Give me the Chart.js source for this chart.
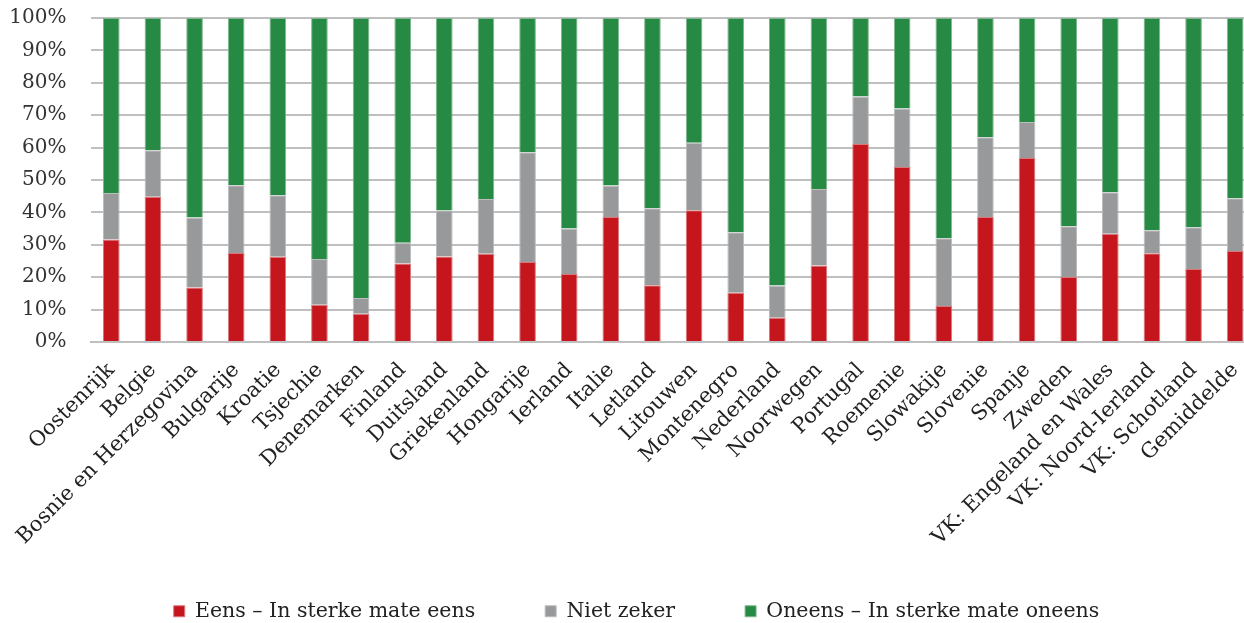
<!DOCTYPE html>
<html>
<head>
<meta charset="utf-8">
<script src="https://cdn.jsdelivr.net/npm/chart.js@4"></script>
<style>
  html, body { margin: 0; padding: 0; background: #fff; overflow: hidden; }
  #wrap { width: 1256px; height: 623px; position: relative; }
</style>
</head>
<body>
<div id="wrap"><canvas id="myChart"></canvas></div>
<script>
const countries = ['Oostenrijk', 'Belgie', 'Bosnie en Herzegovina', 'Bulgarije', 'Kroatie', 'Tsjechie',
    'Denemarken', 'Finland', 'Duitsland', 'Griekenland', 'Hongarije', 'Ierland', 'Italie', 'Letland',
    'Litouwen', 'Montenegro', 'Nederland', 'Noorwegen', 'Portugal', 'Roemenie', 'Slowakije', 'Slovenie',
    'Spanje', 'Zweden', 'VK: Engeland en Wales', 'VK: Noord-Ierland', 'VK: Schotland', 'Gemiddelde'];
const eens = [31.6, 44.8, 16.8, 27.5, 26.3, 11.5, 8.7, 24.2, 26.4, 27.2, 24.7, 21.0, 38.6, 17.5,
    40.7, 15.2, 7.5, 23.6, 61.1, 54.0, 11.1, 38.6, 56.8, 20.1, 33.4, 27.4, 22.5, 28.1];
const nietZeker = [14.4, 14.4, 21.6, 20.9, 19.0, 14.1, 4.9, 6.4, 14.2, 16.9, 33.9, 14.0, 9.7, 23.8,
    20.8, 18.7, 9.9, 23.6, 14.7, 18.1, 20.9, 24.6, 11.1, 15.6, 12.8, 7.1, 12.9, 16.3];
const oneens = [54.0, 40.8, 61.6, 51.6, 54.7, 74.4, 86.4, 69.4, 59.4, 55.9, 41.4, 65.0, 51.7, 58.7,
    38.5, 66.1, 82.6, 52.8, 24.2, 27.9, 68.0, 36.8, 32.1, 64.3, 53.8, 65.5, 64.6, 55.6];
const yTicks = [0, 10, 20, 30, 40, 50, 60, 70, 80, 90, 100];

const font = 'DejaVu Serif';

// put the legend row close to the bottom edge (wide item gaps, small box height)
const legendShift = {
    id: 'legendShift',
    afterLayout(chart) {
        const l = chart.legend;
        const pad = l.options.labels.padding;
        const dy = (chart.height - 12) - (l.top + pad + 10);
        l.top += dy;
        l.bottom = chart.height;
        l.height = l.bottom - l.top;
        l.left += 4;
        l.right += 4;
    }
};

const ctx = document.getElementById('myChart');
new Chart(ctx, {
    type: 'bar',
    data: {
        labels: countries,
        datasets: [
            {
                label: 'Eens – In sterke mate eens',
                data: eens,
                backgroundColor: '#c4161c',
                borderColor: '#d9777a',
                borderWidth: 1
            },
            {
                label: 'Niet zeker',
                data: nietZeker,
                backgroundColor: '#98999b',
                borderColor: '#bcbdbe',
                borderWidth: 1
            },
            {
                label: 'Oneens – In sterke mate oneens',
                data: oneens,
                backgroundColor: '#268a44',
                borderColor: '#7fb68f',
                borderWidth: 1
            }
        ]
    },
    options: {
        responsive: true,
        maintainAspectRatio: false,
        animation: false,
        layout: {
            padding: { left: 9, top: 18, right: 0, bottom: 0 }
        },
        datasets: {
            bar: {
                categoryPercentage: 1,
                barPercentage: 0.4
            }
        },
        scales: {
            x: {
                stacked: true,
                grid: { display: false },
                border: { color: '#bfbfbf', width: 2 },
                afterFit: (scale) => {
                    scale.paddingLeft = 0;
                    scale.paddingRight = 0;
                    scale.height = 251;
                },
                ticks: {
                    color: '#222',
                    font: { family: font, size: 21 },
                    minRotation: 45,
                    maxRotation: 45,
                    autoSkip: false,
                    padding: 8
                }
            },
            y: {
                stacked: true,
                min: 0,
                max: 100,
                afterBuildTicks: (axis) => {
                    axis.ticks = yTicks.map(v => ({ value: v }));
                },
                afterFit: (scale) => {
                    scale.width = 81.5;
                    scale.paddingTop = 0;
                    scale.paddingBottom = 0;
                },
                grid: { color: '#bfbfbf', lineWidth: 2, drawTicks: false },
                border: { display: false },
                ticks: {
                    color: '#333',
                    font: { family: font, size: 20 },
                    padding: 24,
                    callback: (v) => v + '%'
                }
            }
        },
        plugins: {
            legend: {
                position: 'bottom',
                maxHeight: 30,
                labels: {
                    color: '#222',
                    font: { family: font, size: 20.5 },
                    boxWidth: 11,
                    boxHeight: 11,
                    padding: 70
                }
            },
            tooltip: { enabled: false }
        }
    },
    plugins: [legendShift]
});
</script>
</body>
</html>
